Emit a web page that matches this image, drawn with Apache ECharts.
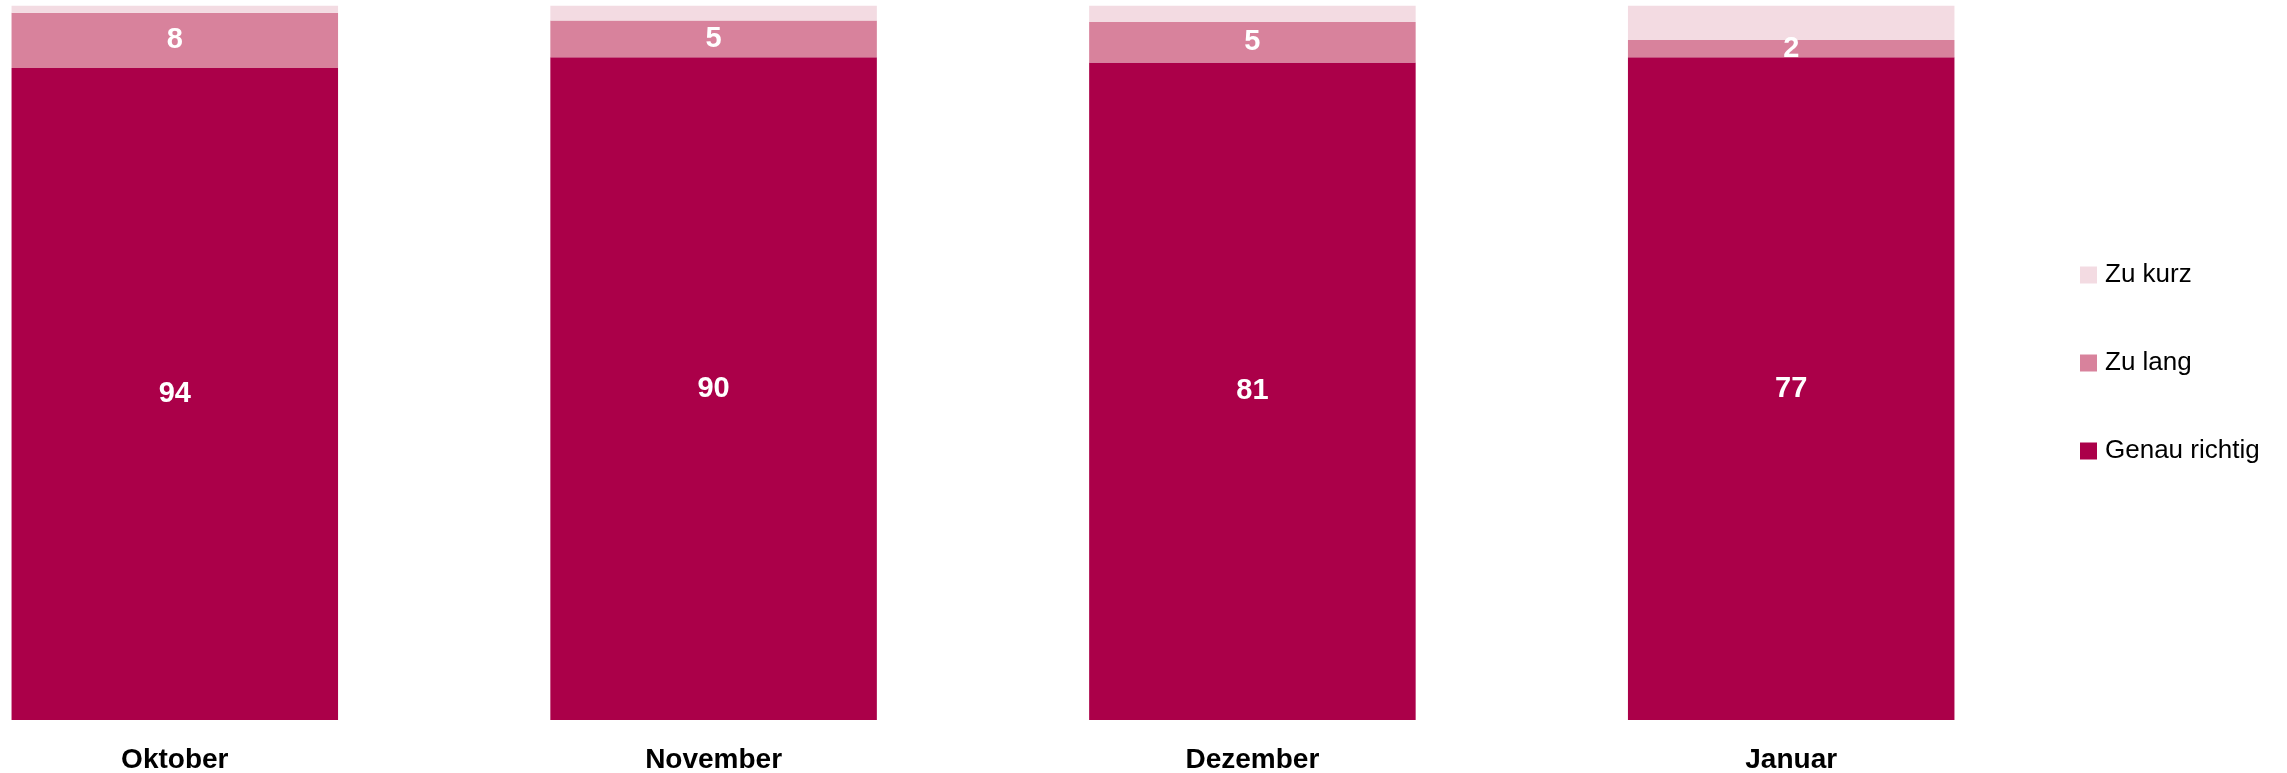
<!DOCTYPE html>
<html>
<head>
<meta charset="utf-8">
<style>
html,body{margin:0;padding:0;background:#fff;}
#chart{width:2287px;height:773px;}
</style>
<script src="https://cdn.jsdelivr.net/npm/echarts@6/dist/echarts.min.js"></script>
</head>
<body>
<div id="chart"></div>
<script>
const categories = ['Oktober', 'November', 'Dezember', 'Januar'];
const genauRichtig = [94, 90, 81, 77];
const zuLang = [8, 5, 5, 2];
const zuKurz = [1, 2, 2, 4];

const totals = categories.map((c, i) => genauRichtig[i] + zuLang[i] + zuKurz[i]);
const share = arr => arr.map((v, i) => v / totals[i] * 100);

const FONT = "'Liberation Sans Narrow', 'Arial Narrow', 'Liberation Sans', Arial, sans-serif";

const chart = echarts.init(document.getElementById('chart'), null, {renderer: 'canvas'});

function labelFor(raw) {
  return {
    show: true,
    position: 'inside',
    color: '#ffffff',
    fontFamily: FONT,
    fontWeight: 'bold',
    fontSize: 29,
    formatter: p => String(raw[p.dataIndex])
  };
}

chart.setOption({
  animation: false,
  backgroundColor: '#ffffff',
  grid: {left: -94.6, right: 226.4, top: 5.7, bottom: 53, containLabel: false, outerBoundsMode: 'none'},
  legend: {
    orient: 'vertical',
    left: 2080,
    top: 262,
    padding: 0,
    itemWidth: 17,
    itemHeight: 17,
    itemGap: 62,
    icon: 'rect',
    data: ['Zu kurz', 'Zu lang', 'Genau richtig'],
    textStyle: {fontFamily: FONT, fontSize: 26, color: '#000', padding: [0, 0, 0, 3]}
  },
  xAxis: {
    type: 'category',
    data: categories,
    axisLine: {show: false},
    axisTick: {show: false},
    axisLabel: {fontFamily: FONT, fontWeight: 'bold', fontSize: 28, color: '#000', margin: 26}
  },
  yAxis: {type: 'value', min: 0, max: 100, show: false, splitLine: {show: false}},
  series: [
    {
      name: 'Genau richtig', type: 'bar', stack: 'all',
      barCategoryGap: '39.4%',
      data: share(genauRichtig),
      itemStyle: {color: '#AB0049'},
      label: labelFor(genauRichtig)
    },
    {
      name: 'Zu lang', type: 'bar', stack: 'all',
      data: share(zuLang),
      itemStyle: {color: '#D8829C'},
      label: labelFor(zuLang)
    },
    {
      name: 'Zu kurz', type: 'bar', stack: 'all',
      data: share(zuKurz),
      itemStyle: {color: '#F3DBE2'},
      label: {show: false}
    }
  ]
});
</script>
</body>
</html>
